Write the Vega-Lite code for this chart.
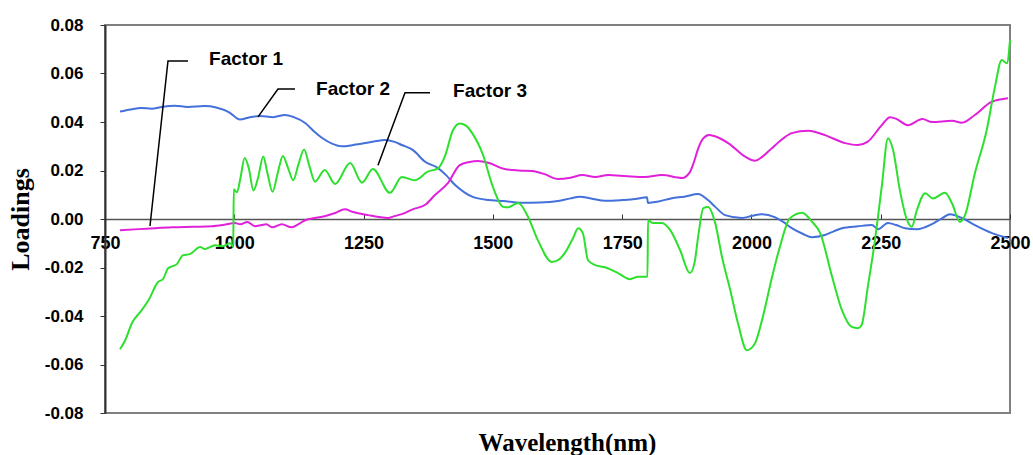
{
  "$schema": "https://vega.github.io/schema/vega-lite/v6.json",
  "width": 905,
  "height": 388,
  "autosize": {"type": "none"},
  "padding": {"left": 105, "top": 25, "right": 23, "bottom": 42},
  "background": "white",
  "config": {"view": {"stroke": "#808080", "strokeWidth": 2}},
  "datasets": {
    "curves": [
      {"factor": "Factor 2", "wavelength": 779, "loading": 0.0443},
      {"factor": "Factor 2", "wavelength": 800, "loading": 0.0452},
      {"factor": "Factor 2", "wavelength": 820, "loading": 0.0458},
      {"factor": "Factor 2", "wavelength": 840, "loading": 0.0455},
      {"factor": "Factor 2", "wavelength": 860, "loading": 0.0462},
      {"factor": "Factor 2", "wavelength": 885, "loading": 0.0467},
      {"factor": "Factor 2", "wavelength": 910, "loading": 0.0462},
      {"factor": "Factor 2", "wavelength": 943, "loading": 0.0466},
      {"factor": "Factor 2", "wavelength": 965, "loading": 0.0460},
      {"factor": "Factor 2", "wavelength": 990, "loading": 0.0440},
      {"factor": "Factor 2", "wavelength": 1011, "loading": 0.0410},
      {"factor": "Factor 2", "wavelength": 1030, "loading": 0.0420},
      {"factor": "Factor 2", "wavelength": 1050, "loading": 0.0425},
      {"factor": "Factor 2", "wavelength": 1075, "loading": 0.0420},
      {"factor": "Factor 2", "wavelength": 1098, "loading": 0.0429},
      {"factor": "Factor 2", "wavelength": 1115, "loading": 0.0420},
      {"factor": "Factor 2", "wavelength": 1137, "loading": 0.0396},
      {"factor": "Factor 2", "wavelength": 1155, "loading": 0.0360},
      {"factor": "Factor 2", "wavelength": 1170, "loading": 0.0334},
      {"factor": "Factor 2", "wavelength": 1190, "loading": 0.0310},
      {"factor": "Factor 2", "wavelength": 1208, "loading": 0.0300},
      {"factor": "Factor 2", "wavelength": 1230, "loading": 0.0305},
      {"factor": "Factor 2", "wavelength": 1253, "loading": 0.0313},
      {"factor": "Factor 2", "wavelength": 1275, "loading": 0.0322},
      {"factor": "Factor 2", "wavelength": 1291, "loading": 0.0326},
      {"factor": "Factor 2", "wavelength": 1310, "loading": 0.0318},
      {"factor": "Factor 2", "wavelength": 1324, "loading": 0.0305},
      {"factor": "Factor 2", "wavelength": 1345, "loading": 0.0285},
      {"factor": "Factor 2", "wavelength": 1369, "loading": 0.0236},
      {"factor": "Factor 2", "wavelength": 1394, "loading": 0.0210},
      {"factor": "Factor 2", "wavelength": 1410, "loading": 0.0180},
      {"factor": "Factor 2", "wavelength": 1427, "loading": 0.0140},
      {"factor": "Factor 2", "wavelength": 1445, "loading": 0.0110},
      {"factor": "Factor 2", "wavelength": 1460, "loading": 0.0092},
      {"factor": "Factor 2", "wavelength": 1491, "loading": 0.0078},
      {"factor": "Factor 2", "wavelength": 1520, "loading": 0.0074},
      {"factor": "Factor 2", "wavelength": 1556, "loading": 0.0067},
      {"factor": "Factor 2", "wavelength": 1590, "loading": 0.0068},
      {"factor": "Factor 2", "wavelength": 1626, "loading": 0.0074},
      {"factor": "Factor 2", "wavelength": 1650, "loading": 0.0085},
      {"factor": "Factor 2", "wavelength": 1668, "loading": 0.0092},
      {"factor": "Factor 2", "wavelength": 1690, "loading": 0.0085},
      {"factor": "Factor 2", "wavelength": 1717, "loading": 0.0075},
      {"factor": "Factor 2", "wavelength": 1750, "loading": 0.0078},
      {"factor": "Factor 2", "wavelength": 1775, "loading": 0.0082},
      {"factor": "Factor 2", "wavelength": 1798, "loading": 0.0090},
      {"factor": "Factor 2", "wavelength": 1800, "loading": 0.0066},
      {"factor": "Factor 2", "wavelength": 1820, "loading": 0.0072},
      {"factor": "Factor 2", "wavelength": 1846, "loading": 0.0086},
      {"factor": "Factor 2", "wavelength": 1870, "loading": 0.0092},
      {"factor": "Factor 2", "wavelength": 1897, "loading": 0.0103},
      {"factor": "Factor 2", "wavelength": 1916, "loading": 0.0078},
      {"factor": "Factor 2", "wavelength": 1930, "loading": 0.0050},
      {"factor": "Factor 2", "wavelength": 1949, "loading": 0.0016},
      {"factor": "Factor 2", "wavelength": 1982, "loading": 0.0004},
      {"factor": "Factor 2", "wavelength": 2000, "loading": 0.0012},
      {"factor": "Factor 2", "wavelength": 2020, "loading": 0.0020},
      {"factor": "Factor 2", "wavelength": 2045, "loading": 0.0008},
      {"factor": "Factor 2", "wavelength": 2060, "loading": -0.0010},
      {"factor": "Factor 2", "wavelength": 2078, "loading": -0.0038},
      {"factor": "Factor 2", "wavelength": 2100, "loading": -0.0062},
      {"factor": "Factor 2", "wavelength": 2117, "loading": -0.0075},
      {"factor": "Factor 2", "wavelength": 2142, "loading": -0.0066},
      {"factor": "Factor 2", "wavelength": 2160, "loading": -0.0050},
      {"factor": "Factor 2", "wavelength": 2175, "loading": -0.0038},
      {"factor": "Factor 2", "wavelength": 2206, "loading": -0.0030},
      {"factor": "Factor 2", "wavelength": 2233, "loading": -0.0025},
      {"factor": "Factor 2", "wavelength": 2245, "loading": -0.0042},
      {"factor": "Factor 2", "wavelength": 2264, "loading": -0.0016},
      {"factor": "Factor 2", "wavelength": 2280, "loading": -0.0025},
      {"factor": "Factor 2", "wavelength": 2297, "loading": -0.0038},
      {"factor": "Factor 2", "wavelength": 2320, "loading": -0.0042},
      {"factor": "Factor 2", "wavelength": 2349, "loading": -0.0021},
      {"factor": "Factor 2", "wavelength": 2370, "loading": 0.0005},
      {"factor": "Factor 2", "wavelength": 2384, "loading": 0.0020},
      {"factor": "Factor 2", "wavelength": 2407, "loading": 0.0004},
      {"factor": "Factor 2", "wavelength": 2432, "loading": -0.0025},
      {"factor": "Factor 2", "wavelength": 2465, "loading": -0.0058},
      {"factor": "Factor 2", "wavelength": 2496, "loading": -0.0078},

      {"factor": "Factor 1", "wavelength": 779, "loading": -0.0046},
      {"factor": "Factor 1", "wavelength": 830, "loading": -0.0040},
      {"factor": "Factor 1", "wavelength": 880, "loading": -0.0034},
      {"factor": "Factor 1", "wavelength": 920, "loading": -0.0032},
      {"factor": "Factor 1", "wavelength": 957, "loading": -0.0030},
      {"factor": "Factor 1", "wavelength": 980, "loading": -0.0024},
      {"factor": "Factor 1", "wavelength": 1001, "loading": -0.0016},
      {"factor": "Factor 1", "wavelength": 1012, "loading": -0.0022},
      {"factor": "Factor 1", "wavelength": 1025, "loading": -0.0012},
      {"factor": "Factor 1", "wavelength": 1040, "loading": -0.0030},
      {"factor": "Factor 1", "wavelength": 1053, "loading": -0.0025},
      {"factor": "Factor 1", "wavelength": 1062, "loading": -0.0022},
      {"factor": "Factor 1", "wavelength": 1073, "loading": -0.0034},
      {"factor": "Factor 1", "wavelength": 1092, "loading": -0.0022},
      {"factor": "Factor 1", "wavelength": 1111, "loading": -0.0034},
      {"factor": "Factor 1", "wavelength": 1125, "loading": -0.0020},
      {"factor": "Factor 1", "wavelength": 1137, "loading": -0.0005},
      {"factor": "Factor 1", "wavelength": 1155, "loading": 0.0004},
      {"factor": "Factor 1", "wavelength": 1170, "loading": 0.0009},
      {"factor": "Factor 1", "wavelength": 1195, "loading": 0.0025},
      {"factor": "Factor 1", "wavelength": 1214, "loading": 0.0040},
      {"factor": "Factor 1", "wavelength": 1228, "loading": 0.0030},
      {"factor": "Factor 1", "wavelength": 1240, "loading": 0.0024},
      {"factor": "Factor 1", "wavelength": 1259, "loading": 0.0016},
      {"factor": "Factor 1", "wavelength": 1280, "loading": 0.0008},
      {"factor": "Factor 1", "wavelength": 1297, "loading": 0.0004},
      {"factor": "Factor 1", "wavelength": 1310, "loading": 0.0012},
      {"factor": "Factor 1", "wavelength": 1324, "loading": 0.0020},
      {"factor": "Factor 1", "wavelength": 1345, "loading": 0.0040},
      {"factor": "Factor 1", "wavelength": 1370, "loading": 0.0060},
      {"factor": "Factor 1", "wavelength": 1388, "loading": 0.0099},
      {"factor": "Factor 1", "wavelength": 1413, "loading": 0.0148},
      {"factor": "Factor 1", "wavelength": 1436, "loading": 0.0222},
      {"factor": "Factor 1", "wavelength": 1455, "loading": 0.0235},
      {"factor": "Factor 1", "wavelength": 1471, "loading": 0.0239},
      {"factor": "Factor 1", "wavelength": 1491, "loading": 0.0232},
      {"factor": "Factor 1", "wavelength": 1523, "loading": 0.0206},
      {"factor": "Factor 1", "wavelength": 1550, "loading": 0.0200},
      {"factor": "Factor 1", "wavelength": 1576, "loading": 0.0198},
      {"factor": "Factor 1", "wavelength": 1600, "loading": 0.0185},
      {"factor": "Factor 1", "wavelength": 1626, "loading": 0.0165},
      {"factor": "Factor 1", "wavelength": 1650, "loading": 0.0170},
      {"factor": "Factor 1", "wavelength": 1673, "loading": 0.0181},
      {"factor": "Factor 1", "wavelength": 1698, "loading": 0.0173},
      {"factor": "Factor 1", "wavelength": 1723, "loading": 0.0181},
      {"factor": "Factor 1", "wavelength": 1760, "loading": 0.0176},
      {"factor": "Factor 1", "wavelength": 1794, "loading": 0.0173},
      {"factor": "Factor 1", "wavelength": 1827, "loading": 0.0181},
      {"factor": "Factor 1", "wavelength": 1866, "loading": 0.0169},
      {"factor": "Factor 1", "wavelength": 1880, "loading": 0.0190},
      {"factor": "Factor 1", "wavelength": 1888, "loading": 0.0230},
      {"factor": "Factor 1", "wavelength": 1897, "loading": 0.0290},
      {"factor": "Factor 1", "wavelength": 1906, "loading": 0.0330},
      {"factor": "Factor 1", "wavelength": 1918, "loading": 0.0346},
      {"factor": "Factor 1", "wavelength": 1928, "loading": 0.0342},
      {"factor": "Factor 1", "wavelength": 1955, "loading": 0.0313},
      {"factor": "Factor 1", "wavelength": 1988, "loading": 0.0257},
      {"factor": "Factor 1", "wavelength": 2007, "loading": 0.0240},
      {"factor": "Factor 1", "wavelength": 2020, "loading": 0.0255},
      {"factor": "Factor 1", "wavelength": 2040, "loading": 0.0293},
      {"factor": "Factor 1", "wavelength": 2060, "loading": 0.0330},
      {"factor": "Factor 1", "wavelength": 2078, "loading": 0.0354},
      {"factor": "Factor 1", "wavelength": 2110, "loading": 0.0364},
      {"factor": "Factor 1", "wavelength": 2142, "loading": 0.0346},
      {"factor": "Factor 1", "wavelength": 2181, "loading": 0.0313},
      {"factor": "Factor 1", "wavelength": 2206, "loading": 0.0305},
      {"factor": "Factor 1", "wavelength": 2225, "loading": 0.0319},
      {"factor": "Factor 1", "wavelength": 2252, "loading": 0.0387},
      {"factor": "Factor 1", "wavelength": 2268, "loading": 0.0420},
      {"factor": "Factor 1", "wavelength": 2281, "loading": 0.0412},
      {"factor": "Factor 1", "wavelength": 2302, "loading": 0.0387},
      {"factor": "Factor 1", "wavelength": 2331, "loading": 0.0412},
      {"factor": "Factor 1", "wavelength": 2349, "loading": 0.0400},
      {"factor": "Factor 1", "wavelength": 2388, "loading": 0.0405},
      {"factor": "Factor 1", "wavelength": 2407, "loading": 0.0397},
      {"factor": "Factor 1", "wavelength": 2432, "loading": 0.0429},
      {"factor": "Factor 1", "wavelength": 2465, "loading": 0.0484},
      {"factor": "Factor 1", "wavelength": 2496, "loading": 0.0498},

      {"factor": "Factor 3", "wavelength": 779, "loading": -0.0537},
      {"factor": "Factor 3", "wavelength": 789, "loading": -0.0500},
      {"factor": "Factor 3", "wavelength": 802, "loading": -0.0430},
      {"factor": "Factor 3", "wavelength": 821, "loading": -0.0376},
      {"factor": "Factor 3", "wavelength": 834, "loading": -0.0335},
      {"factor": "Factor 3", "wavelength": 853, "loading": -0.0259},
      {"factor": "Factor 3", "wavelength": 862, "loading": -0.0248},
      {"factor": "Factor 3", "wavelength": 872, "loading": -0.0203},
      {"factor": "Factor 3", "wavelength": 889, "loading": -0.0186},
      {"factor": "Factor 3", "wavelength": 901, "loading": -0.0149},
      {"factor": "Factor 3", "wavelength": 914, "loading": -0.0145},
      {"factor": "Factor 3", "wavelength": 934, "loading": -0.0115},
      {"factor": "Factor 3", "wavelength": 943, "loading": -0.0124},
      {"factor": "Factor 3", "wavelength": 963, "loading": -0.0108},
      {"factor": "Factor 3", "wavelength": 978, "loading": -0.0112},
      {"factor": "Factor 3", "wavelength": 992, "loading": -0.0100},
      {"factor": "Factor 3", "wavelength": 998, "loading": -0.0115},
      {"factor": "Factor 3", "wavelength": 999, "loading": 0.0123},
      {"factor": "Factor 3", "wavelength": 1005, "loading": 0.0110},
      {"factor": "Factor 3", "wavelength": 1012, "loading": 0.0170},
      {"factor": "Factor 3", "wavelength": 1020, "loading": 0.0252},
      {"factor": "Factor 3", "wavelength": 1028, "loading": 0.0210},
      {"factor": "Factor 3", "wavelength": 1037, "loading": 0.0118},
      {"factor": "Factor 3", "wavelength": 1046, "loading": 0.0170},
      {"factor": "Factor 3", "wavelength": 1056, "loading": 0.0258},
      {"factor": "Factor 3", "wavelength": 1064, "loading": 0.0190},
      {"factor": "Factor 3", "wavelength": 1074, "loading": 0.0112},
      {"factor": "Factor 3", "wavelength": 1084, "loading": 0.0190},
      {"factor": "Factor 3", "wavelength": 1094, "loading": 0.0260},
      {"factor": "Factor 3", "wavelength": 1104, "loading": 0.0210},
      {"factor": "Factor 3", "wavelength": 1114, "loading": 0.0160},
      {"factor": "Factor 3", "wavelength": 1124, "loading": 0.0225},
      {"factor": "Factor 3", "wavelength": 1135, "loading": 0.0287},
      {"factor": "Factor 3", "wavelength": 1145, "loading": 0.0220},
      {"factor": "Factor 3", "wavelength": 1156, "loading": 0.0154},
      {"factor": "Factor 3", "wavelength": 1175, "loading": 0.0202},
      {"factor": "Factor 3", "wavelength": 1195, "loading": 0.0144},
      {"factor": "Factor 3", "wavelength": 1224, "loading": 0.0231},
      {"factor": "Factor 3", "wavelength": 1247, "loading": 0.0150},
      {"factor": "Factor 3", "wavelength": 1268, "loading": 0.0206},
      {"factor": "Factor 3", "wavelength": 1301, "loading": 0.0108},
      {"factor": "Factor 3", "wavelength": 1324, "loading": 0.0173},
      {"factor": "Factor 3", "wavelength": 1349, "loading": 0.0160},
      {"factor": "Factor 3", "wavelength": 1374, "loading": 0.0195},
      {"factor": "Factor 3", "wavelength": 1394, "loading": 0.0209},
      {"factor": "Factor 3", "wavelength": 1407, "loading": 0.0257},
      {"factor": "Factor 3", "wavelength": 1423, "loading": 0.0367},
      {"factor": "Factor 3", "wavelength": 1436, "loading": 0.0394},
      {"factor": "Factor 3", "wavelength": 1448, "loading": 0.0385},
      {"factor": "Factor 3", "wavelength": 1460, "loading": 0.0354},
      {"factor": "Factor 3", "wavelength": 1481, "loading": 0.0264},
      {"factor": "Factor 3", "wavelength": 1500, "loading": 0.0133},
      {"factor": "Factor 3", "wavelength": 1520, "loading": 0.0050},
      {"factor": "Factor 3", "wavelength": 1529, "loading": 0.0048},
      {"factor": "Factor 3", "wavelength": 1549, "loading": 0.0066},
      {"factor": "Factor 3", "wavelength": 1568, "loading": 0.0009},
      {"factor": "Factor 3", "wavelength": 1587, "loading": -0.0087},
      {"factor": "Factor 3", "wavelength": 1614, "loading": -0.0177},
      {"factor": "Factor 3", "wavelength": 1626, "loading": -0.0170},
      {"factor": "Factor 3", "wavelength": 1639, "loading": -0.0141},
      {"factor": "Factor 3", "wavelength": 1655, "loading": -0.0079},
      {"factor": "Factor 3", "wavelength": 1665, "loading": -0.0038},
      {"factor": "Factor 3", "wavelength": 1674, "loading": -0.0058},
      {"factor": "Factor 3", "wavelength": 1684, "loading": -0.0170},
      {"factor": "Factor 3", "wavelength": 1698, "loading": -0.0190},
      {"factor": "Factor 3", "wavelength": 1717, "loading": -0.0199},
      {"factor": "Factor 3", "wavelength": 1742, "loading": -0.0223},
      {"factor": "Factor 3", "wavelength": 1765, "loading": -0.0248},
      {"factor": "Factor 3", "wavelength": 1781, "loading": -0.0238},
      {"factor": "Factor 3", "wavelength": 1799, "loading": -0.0238},
      {"factor": "Factor 3", "wavelength": 1800, "loading": -0.0005},
      {"factor": "Factor 3", "wavelength": 1810, "loading": -0.0017},
      {"factor": "Factor 3", "wavelength": 1827, "loading": -0.0016},
      {"factor": "Factor 3", "wavelength": 1843, "loading": -0.0046},
      {"factor": "Factor 3", "wavelength": 1862, "loading": -0.0128},
      {"factor": "Factor 3", "wavelength": 1881, "loading": -0.0223},
      {"factor": "Factor 3", "wavelength": 1890, "loading": -0.0180},
      {"factor": "Factor 3", "wavelength": 1897, "loading": -0.0073},
      {"factor": "Factor 3", "wavelength": 1907, "loading": 0.0045},
      {"factor": "Factor 3", "wavelength": 1916, "loading": 0.0050},
      {"factor": "Factor 3", "wavelength": 1930, "loading": -0.0017},
      {"factor": "Factor 3", "wavelength": 1943, "loading": -0.0156},
      {"factor": "Factor 3", "wavelength": 1959, "loading": -0.0293},
      {"factor": "Factor 3", "wavelength": 1974, "loading": -0.0430},
      {"factor": "Factor 3", "wavelength": 1991, "loading": -0.0541},
      {"factor": "Factor 3", "wavelength": 2007, "loading": -0.0512},
      {"factor": "Factor 3", "wavelength": 2022, "loading": -0.0404},
      {"factor": "Factor 3", "wavelength": 2040, "loading": -0.0238},
      {"factor": "Factor 3", "wavelength": 2055, "loading": -0.0115},
      {"factor": "Factor 3", "wavelength": 2074, "loading": 0.0002},
      {"factor": "Factor 3", "wavelength": 2098, "loading": 0.0026},
      {"factor": "Factor 3", "wavelength": 2117, "loading": -0.0011},
      {"factor": "Factor 3", "wavelength": 2133, "loading": -0.0058},
      {"factor": "Factor 3", "wavelength": 2156, "loading": -0.0238},
      {"factor": "Factor 3", "wavelength": 2175, "loading": -0.0376},
      {"factor": "Factor 3", "wavelength": 2194, "loading": -0.0445},
      {"factor": "Factor 3", "wavelength": 2206, "loading": -0.0450},
      {"factor": "Factor 3", "wavelength": 2213, "loading": -0.0438},
      {"factor": "Factor 3", "wavelength": 2225, "loading": -0.0280},
      {"factor": "Factor 3", "wavelength": 2238, "loading": -0.0101},
      {"factor": "Factor 3", "wavelength": 2252, "loading": 0.0133},
      {"factor": "Factor 3", "wavelength": 2264, "loading": 0.0333},
      {"factor": "Factor 3", "wavelength": 2274, "loading": 0.0284},
      {"factor": "Factor 3", "wavelength": 2287, "loading": 0.0119},
      {"factor": "Factor 3", "wavelength": 2301, "loading": -0.0005},
      {"factor": "Factor 3", "wavelength": 2310, "loading": -0.0032},
      {"factor": "Factor 3", "wavelength": 2320, "loading": 0.0037},
      {"factor": "Factor 3", "wavelength": 2336, "loading": 0.0106},
      {"factor": "Factor 3", "wavelength": 2351, "loading": 0.0085},
      {"factor": "Factor 3", "wavelength": 2374, "loading": 0.0108},
      {"factor": "Factor 3", "wavelength": 2388, "loading": 0.0064},
      {"factor": "Factor 3", "wavelength": 2403, "loading": -0.0012},
      {"factor": "Factor 3", "wavelength": 2413, "loading": 0.0016},
      {"factor": "Factor 3", "wavelength": 2432, "loading": 0.0188},
      {"factor": "Factor 3", "wavelength": 2455, "loading": 0.0367},
      {"factor": "Factor 3", "wavelength": 2471, "loading": 0.0546},
      {"factor": "Factor 3", "wavelength": 2484, "loading": 0.0656},
      {"factor": "Factor 3", "wavelength": 2494, "loading": 0.0642},
      {"factor": "Factor 3", "wavelength": 2500, "loading": 0.0738}
    ],
    "leaders": [
      {"label": "Factor 1", "step": 1, "wavelength": 910.5, "loading": 0.0652},
      {"label": "Factor 1", "step": 2, "wavelength": 871.8, "loading": 0.0652},
      {"label": "Factor 1", "step": 3, "wavelength": 837.0, "loading": -0.0029},
      {"label": "Factor 2", "step": 1, "wavelength": 1117.4, "loading": 0.0536},
      {"label": "Factor 2", "step": 2, "wavelength": 1084.5, "loading": 0.0536},
      {"label": "Factor 2", "step": 3, "wavelength": 1045.9, "loading": 0.0421},
      {"label": "Factor 3", "step": 1, "wavelength": 1378.5, "loading": 0.0521},
      {"label": "Factor 3", "step": 2, "wavelength": 1330.1, "loading": 0.0521},
      {"label": "Factor 3", "step": 3, "wavelength": 1277.9, "loading": 0.0222}
    ],
    "labels": [
      {"label": "Factor 1", "wavelength": 1022.7, "loading": 0.0660},
      {"label": "Factor 2", "wavelength": 1229.6, "loading": 0.0536},
      {"label": "Factor 3", "wavelength": 1494.5, "loading": 0.0528}
    ]
  },
  "encoding": {
    "x": {
      "field": "wavelength",
      "type": "quantitative",
      "scale": {"domain": [750, 2500], "nice": false, "zero": false},
      "axis": {
        "title": "Wavelength(nm)",
        "values": [750, 1000, 1250, 1500, 1750, 2000, 2250, 2500],
        "format": "d",
        "offset": -194,
        "grid": false,
        "domainColor": "#555555",
        "domainWidth": 1.5,
        "tickColor": "#333333",
        "tickSize": -5,
        "tickWidth": 1,
        "labelPadding": 20,
        "labelFont": "Liberation Sans",
        "labelFontWeight": "bold",
        "labelFontSize": 18,
        "labelColor": "#000000",
        "labelFlush": false,
        "labelOverlap": false,
        "labelBound": false,
        "titleFont": "Liberation Serif",
        "titleFontWeight": "bold",
        "titleFontSize": 25,
        "titleColor": "#000000",
        "titleBaseline": "alphabetic",
        "titleX": 462,
        "titleY": 231
      }
    },
    "y": {
      "field": "loading",
      "type": "quantitative",
      "scale": {"domain": [-0.08, 0.08], "nice": false},
      "axis": {
        "title": "Loadings",
        "values": [-0.08, -0.06, -0.04, -0.02, 0, 0.02, 0.04, 0.06, 0.08],
        "labelExpr": "datum.value < -0.0001 ? '-' + format(-datum.value, '.2f') : format(abs(datum.value), '.2f')",
        "grid": false,
        "domainColor": "#333333",
        "domainWidth": 2,
        "tickColor": "#333333",
        "tickSize": 5,
        "tickWidth": 1,
        "labelPadding": 17,
        "labelFont": "Liberation Sans",
        "labelFontWeight": "bold",
        "labelFontSize": 17,
        "labelColor": "#000000",
        "labelFlush": false,
        "labelOverlap": false,
        "titleFont": "Liberation Serif",
        "titleFontWeight": "bold",
        "titleFontSize": 26,
        "titleColor": "#000000",
        "titlePadding": 11
      }
    }
  },
  "layer": [
    {
      "data": {"name": "curves"},
      "mark": {"type": "line", "strokeWidth": 2, "interpolate": "monotone"},
      "encoding": {
        "color": {
          "field": "factor",
          "type": "nominal",
          "scale": {"domain": ["Factor 1", "Factor 2", "Factor 3"], "range": ["#E020DA", "#4470DC", "#2EE02E"]},
          "legend": null
        }
      }
    },
    {
      "data": {"name": "leaders"},
      "mark": {"type": "line", "color": "#000000", "strokeWidth": 1.5},
      "encoding": {
        "detail": {"field": "label", "type": "nominal"},
        "order": {"field": "step", "type": "quantitative"}
      }
    },
    {
      "data": {"name": "labels"},
      "mark": {"type": "text", "font": "Liberation Sans", "fontWeight": "bold", "fontSize": 19, "color": "#000000", "align": "center", "baseline": "middle"},
      "encoding": {
        "text": {"field": "label", "type": "nominal"}
      }
    }
  ]
}
